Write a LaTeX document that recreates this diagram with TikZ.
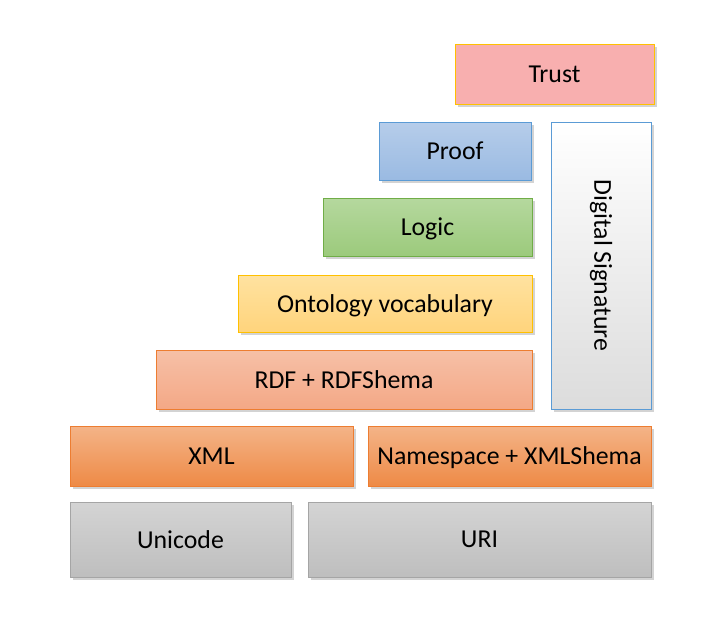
\documentclass[tikz,border=0pt]{standalone}
\usepackage{fontspec}
\setmainfont{Carlito}
\usetikzlibrary{shadows}
\definecolor{pinkfill}{HTML}{F8AFAF}
\definecolor{goldline}{HTML}{FFC000}
\definecolor{blueline}{HTML}{5B9BD5}
\definecolor{greenline}{HTML}{70AD47}
\definecolor{orangeline}{HTML}{ED7D31}
\definecolor{grayline}{HTML}{A5A5A5}
\begin{document}
\begin{tikzpicture}[x=1pt, y=-1pt, line width=1pt,
  layer/.style={rectangle, draw, inner sep=0pt, text depth=0pt, font=\fontsize{25.8}{30}\selectfont,
    drop shadow={shadow xshift=2.5pt, shadow yshift=-2.5pt, opacity=0.35}},
  gray layer/.style={layer, draw=grayline, top color={rgb,255:red,212;green,212;blue,212}, bottom color={rgb,255:red,190;green,190;blue,190}},
  orange layer/.style={layer, draw=orangeline, top color={rgb,255:red,244;green,180;blue,136}, bottom color={rgb,255:red,238;green,138;blue,70}}]
\useasboundingbox (0,0) rectangle (723,629);
% bottom rows
\node[gray layer, minimum width=221, minimum height=75] (unicode) at (180.5,539.5) {Unicode};
\node[gray layer, minimum width=343, minimum height=75] (uri) at (479.5,539.5) {URI};
\node[orange layer, minimum width=283, minimum height=60] (xml) at (211.5,456) {XML};
\node[orange layer, minimum width=283, minimum height=60] (ns) at (509.5,456) {Namespace + XMLShema};
% stair
\node[layer, draw=orangeline, top color={rgb,255:red,246;green,192;blue,167}, bottom color={rgb,255:red,244;green,168;blue,134},
  minimum width=376, minimum height=59] (rdf) at (344,379.5) {RDF + RDFShema};
\node[layer, draw=goldline, top color={rgb,255:red,255;green,226;blue,160}, bottom color={rgb,255:red,255;green,212;blue,124},
  minimum width=294, minimum height=57] (onto) at (385,303.5) {Ontology vocabulary};
\node[layer, draw=greenline, top color={rgb,255:red,181;green,216;blue,158}, bottom color={rgb,255:red,156;green,202;blue,124},
  minimum width=209, minimum height=58] (logic) at (427.5,227) {Logic};
\node[layer, draw=blueline, top color={rgb,255:red,182;green,205;blue,234}, bottom color={rgb,255:red,154;green,186;blue,226},
  minimum width=152, minimum height=58] (proof) at (455,151) {Proof};
\node[layer, draw=goldline, fill=pinkfill, minimum width=199, minimum height=60] (trust) at (554.5,74) {Trust};
% side column
\node[layer, draw=blueline, top color=white, bottom color={rgb,255:red,220;green,220;blue,220},
  minimum width=100, minimum height=287] (sig) at (601,265.5) {};
\node[rotate=-90, font=\fontsize{25.8}{30}\selectfont] (sigtext) at (sig) {Digital Signature};
\end{tikzpicture}
\end{document}
